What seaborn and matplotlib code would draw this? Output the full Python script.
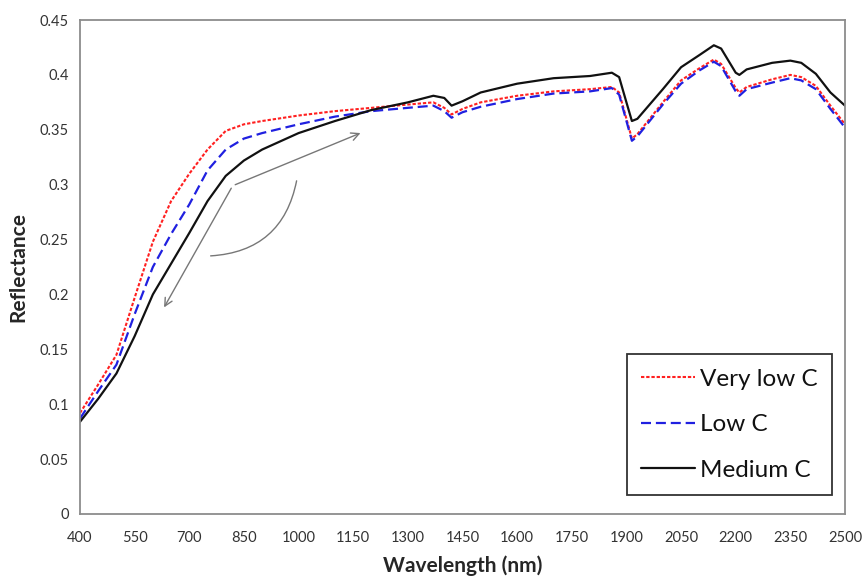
import numpy as np
import pandas as pd
import matplotlib
matplotlib.use("Agg")
import matplotlib.pyplot as plt
import seaborn as sns

wavelength = [400, 450, 500, 550, 600, 650, 700, 750, 800, 850, 900, 1000, 1100, 1200,
              1300, 1370, 1400, 1420, 1450, 1500, 1600, 1700, 1800, 1860, 1880, 1900,
              1915, 1930, 2000, 2050, 2100, 2140, 2160, 2200, 2210, 2230, 2300, 2350,
              2380, 2420, 2460, 2500]

very_low_c = [0.092, 0.118, 0.145, 0.197, 0.248, 0.285, 0.310, 0.332, 0.349, 0.355, 0.358,
              0.363, 0.367, 0.370, 0.373, 0.375, 0.370, 0.364, 0.369, 0.375, 0.381, 0.385,
              0.387, 0.389, 0.384, 0.360, 0.342, 0.346, 0.375, 0.395, 0.406, 0.414, 0.410,
              0.388, 0.384, 0.389, 0.396, 0.400, 0.398, 0.390, 0.372, 0.355]

low_c = [0.087, 0.112, 0.136, 0.182, 0.225, 0.255, 0.282, 0.313, 0.332, 0.342, 0.347,
         0.355, 0.362, 0.367, 0.370, 0.372, 0.367, 0.361, 0.366, 0.371, 0.378, 0.383,
         0.385, 0.388, 0.382, 0.358, 0.340, 0.344, 0.373, 0.392, 0.404, 0.412, 0.408,
         0.385, 0.381, 0.387, 0.393, 0.397, 0.395, 0.387, 0.369, 0.352]

medium_c = [0.084, 0.105, 0.128, 0.162, 0.200, 0.228, 0.256, 0.285, 0.308, 0.322, 0.332,
            0.347, 0.358, 0.368, 0.375, 0.381, 0.379, 0.372, 0.376, 0.384, 0.392, 0.397,
            0.399, 0.402, 0.398, 0.375, 0.358, 0.360, 0.387, 0.407, 0.418, 0.427, 0.424,
            0.402, 0.400, 0.405, 0.411, 0.413, 0.411, 0.401, 0.384, 0.372]

series_names = ["Very low C", "Low C", "Medium C"]
x_ticks = list(range(400, 2501, 150))
y_ticks = [0, 0.05, 0.1, 0.15, 0.2, 0.25, 0.3, 0.35, 0.4, 0.45]

df = pd.concat([
    pd.DataFrame({"Wavelength": wavelength, "Reflectance": vals, "Sample": name})
    for name, vals in zip(series_names, [very_low_c, low_c, medium_c])
])

sns.set_theme(style="white")
plt.rcParams["font.family"] = ["Lato", "DejaVu Sans"]

fig = plt.figure(figsize=(8.64, 5.77), dpi=100)
ax = fig.add_axes([0.0926, 0.1092, 0.8854, 0.8561])

palette = {"Very low C": "#ff2020", "Low C": "#2020e0", "Medium C": "#111111"}
dashes = {"Very low C": (1.6, 0.9), "Low C": (4.5, 2.2), "Medium C": ""}
widths = {"Very low C": 1.5, "Low C": 1.6, "Medium C": 1.6}

for name in series_names:
    sub = df[df["Sample"] == name]
    sns.lineplot(data=sub, x="Wavelength", y="Reflectance", ax=ax,
                 color=palette[name], linewidth=widths[name], label=name,
                 dashes=False, estimator=None, sort=False)
for line, name in zip(ax.get_lines(), series_names):
    if dashes[name]:
        line.set_dashes(dashes[name])

ax.set_xlim(400, 2500)
ax.set_ylim(0, 0.45)
ax.set_xticks(x_ticks)
ax.set_xticklabels([str(t) for t in x_ticks])
ax.set_yticks(y_ticks)
ax.set_yticklabels(["0", "0.05", "0.1", "0.15", "0.2", "0.25", "0.3", "0.35", "0.4", "0.45"])
ax.tick_params(axis="both", direction="out", length=4, width=1, color="#888888",
               labelsize=10.5, labelcolor="#333333", pad=4)
ax.tick_params(axis="x", pad=8)
for sp in ax.spines.values():
    sp.set_color("#8c8c8c")
    sp.set_linewidth(1.3)

ax.set_xlabel("Wavelength (nm)", fontsize=15, fontweight="bold", labelpad=8)
ax.set_ylabel("Reflectance", fontsize=15, fontweight="bold", labelpad=8)

# annotation arrows
grey = "#777777"
ax.annotate("", xy=(627, 0.186), xytext=(819, 0.299),
            arrowprops=dict(arrowstyle="->", color=grey, lw=1, mutation_scale=14))
ax.annotate("", xy=(1177, 0.348), xytext=(819, 0.299),
            arrowprops=dict(arrowstyle="->", color=grey, lw=1, mutation_scale=14))
ax.annotate("", xy=(751, 0.235), xytext=(996, 0.306),
            arrowprops=dict(arrowstyle="-", color=grey, lw=1,
                            connectionstyle="arc3,rad=-0.4"))

leg = ax.legend(loc="lower right", bbox_to_anchor=(0.983, 0.038), fontsize=17.5,
                frameon=True, fancybox=False, edgecolor="black", handlelength=2.2,
                handletextpad=0.2, labelspacing=1.0, borderpad=0.6,
                borderaxespad=0)
leg.get_frame().set_linewidth(1.3)
for t in leg.get_texts():
    t.set_color("#111111")
leg.get_frame().set_boxstyle("square", pad=0.0)

fig.savefig("out.png", dpi=100, facecolor="white")
